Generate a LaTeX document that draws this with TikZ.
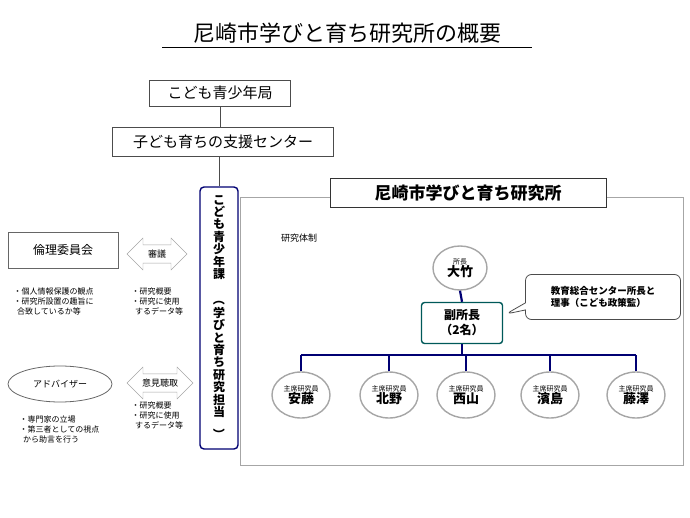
\documentclass[tikz,border=0pt]{standalone}
\usepackage{fontspec}
\setmainfont{Noto Sans CJK JP}
\usepackage{graphicx}
\usetikzlibrary{positioning,shapes.arrows,shapes.callouts}
\tikzset{
  box/.style={draw=black!70,line width=0.8pt,inner sep=3pt},
  member/.style={draw=gray!70,line width=1.4pt,ellipse,fill=white,minimum width=58pt,minimum height=46pt,inner sep=0pt,align=center},
  tree/.style={draw=blue!45!black,line width=2.2pt},
  talk/.style={double arrow,draw=gray!70,fill=white,minimum height=60pt,minimum width=32pt,double arrow head extend=4pt,inner sep=1pt,font=\fontsize{9}{9}\selectfont},
  note/.style={font=\fontsize{8}{10}\selectfont,align=left,anchor=north west},
}
\usetikzlibrary{shapes.geometric}
\begin{document}
\begin{tikzpicture}[x=1pt,y=-1pt]
  \useasboundingbox (0,0) rectangle (690,518);
  % title
  \node (title) at (347,33) {\fontsize{22}{22}\selectfont 尼崎市学びと育ち研究所の概要};
  \draw[line width=0.8pt] (162,47) -- (532,47);
  % upper chain
  \node[box,minimum width=141pt,minimum height=26pt,font=\fontsize{15}{15}\selectfont] (kyoku) at (220,93) {こども青少年局};
  \node[box,minimum width=221pt,minimum height=29pt,font=\fontsize{15}{15}\selectfont] (center) at (223,142) {子ども育ちの支援センター};
  \draw[black!70,line width=0.8pt] (kyoku.south) -- (kyoku.south |- center.north);
  % institute frame
  \draw[gray!70,line width=1pt] (240,198) rectangle (683,465);
  \node[box,draw=black!80,fill=white,minimum width=276pt,minimum height=29pt,font=\bfseries\fontsize{17}{17}\selectfont] (inst) at (468,193) {尼崎市学びと育ち研究所};
  % section bar
  \node[draw=blue!45!black,line width=1.4pt,rounded corners=4pt,fill=white,minimum width=38pt,minimum height=262pt,inner sep=0pt,
        font=\bfseries\fontsize{12}{12.4}\selectfont,align=center] (ka) at (219,318)
    {こ\\ど\\も\\青\\少\\年\\課\\[3pt]\rotatebox{-90}{（}\\学\\び\\と\\育\\ち\\研\\究\\担\\当\\\rotatebox{-90}{）}};
  \draw[black!70,line width=0.8pt] (center.south -| ka.north) -- (ka.north);
  % research structure
  \node[font=\fontsize{9}{9}\selectfont] (taisei) at (299,238) {研究体制};
  \node[member,minimum width=54pt,minimum height=44pt] (chief) at (460,268) {{\fontsize{7}{8}\selectfont 所長}\\{\bfseries\fontsize{13}{14}\selectfont 大竹}};
  \node[draw=teal!70!black,line width=1.4pt,rounded corners=3pt,minimum width=81pt,minimum height=41pt,align=center,
        font=\bfseries\fontsize{12}{15}\selectfont] (vice) at (462,323) {副所長\\（2名）};
  \node[rectangle callout,rounded corners=6pt,draw=black!70,line width=0.8pt,minimum width=155pt,minimum height=45pt,
        callout absolute pointer={(506,314)},align=left,font=\bfseries\fontsize{9.5}{12}\selectfont] (role) at (603,297)
    {教育総合センター所長と\\理事（こども政策監）};
  \draw[tree] (chief.south) -- (vice.north);
  \coordinate (fork) at (462,355);
  \draw[tree] (vice.south) -- (fork);
  \foreach \nm/\xx/\who in {ando/301/安藤,kitano/389/北野,nishi/466/西山,hama/550/濱島,fuji/636/藤澤}{
    \node[member] (\nm) at (\xx,395) {{\fontsize{7}{8}\selectfont 主席研究員}\\{\bfseries\fontsize{13}{14}\selectfont \who}};
    \draw[tree] (\nm.north) -- (\nm.north |- fork);
  }
  \draw[tree] (ando.north |- fork) -- (fuji.north |- fork);
  % left side
  \node[box,draw=black!60,minimum width=110pt,minimum height=36pt,font=\fontsize{12}{12}\selectfont] (rinri) at (63,250) {倫理委員会};
  \node[talk] (shingi) at (157,254) {審議};
  \node[note] (rinri note) at (10,284) {・個人情報保護の観点\\・研究所設置の趣旨に\\\ \ 合致しているか等};
  \node[note] (shingi note) at (128,284) {・研究概要\\・研究に使用\\\ \ するデータ等};
  \node[ellipse,draw=black!60,line width=0.8pt,minimum width=104pt,minimum height=36pt,font=\fontsize{9}{9}\selectfont] (adv) at (60,384) {アドバイザー};
  \node[talk,minimum height=66pt] (choshu) at (160,383) {意見聴取};
  \node[note] (adv note) at (16,412) {・専門家の立場\\・第三者としての視点\\\ \ から助言を行う};
  \node[note] (choshu note) at (128,398) {・研究概要\\・研究に使用\\\ \ するデータ等};
\end{tikzpicture}
\end{document}
